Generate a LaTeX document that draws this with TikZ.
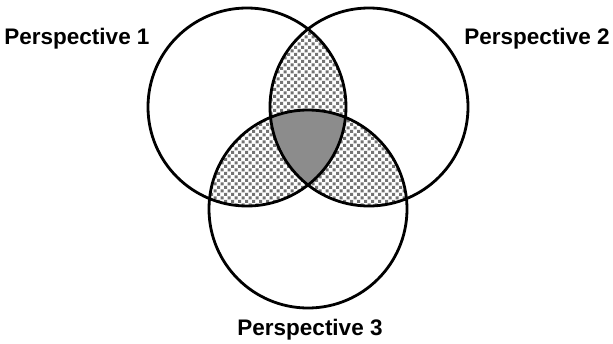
\documentclass[tikz,border=0pt]{standalone}
\usepackage{fontspec}
\setmainfont{Liberation Sans}
\usepackage{tikz}
\usetikzlibrary{patterns}

% small gray squares, staggered
\pgfdeclarepatternformonly{squaredots}{\pgfpoint{-1pt}{-1pt}}{\pgfpoint{8pt}{8pt}}{\pgfpoint{7pt}{7pt}}{
  \pgfpathrectangle{\pgfpoint{0pt}{0pt}}{\pgfpoint{3pt}{3pt}}
  \pgfpathrectangle{\pgfpoint{3.5pt}{3.5pt}}{\pgfpoint{3pt}{3pt}}
  \pgfusepath{fill}
}

\begin{document}
\begin{tikzpicture}[
    x=1pt, y=-1pt,
    lbl/.style={font=\fontsize{22.5}{24}\selectfont\bfseries, inner sep=0pt},
    ring/.style={line width=2.8pt},
    dots/.style={pattern=squaredots, pattern color=black!55},
    core/.style={fill=black!45}
  ]
    \useasboundingbox (0,0) rectangle (613,343);
    \def\r{99}
    \coordinate (c1) at (247,107);
    \coordinate (c2) at (369,107);
    \coordinate (c3) at (308,209);

    % pairwise overlaps
    \foreach \a/\b in {c1/c2, c1/c3, c2/c3} {
      \begin{scope}
        \clip (\a) circle (\r);
        \fill[dots] (\b) circle (\r);
      \end{scope}
    }
    % all three
    \begin{scope}
      \clip (c1) circle (\r);
      \clip (c2) circle (\r);
      \fill[core] (c3) circle (\r);
    \end{scope}

    \foreach \c in {c1, c2, c3}
      \draw[ring] (\c) circle (\r);

    \node[lbl] (p1) at (77,39) {Perspective 1};
    \node[lbl] (p2) at (537,39) {Perspective 2};
    \node[lbl] (p3) at (310,330) {Perspective 3};
\end{tikzpicture}
\end{document}
